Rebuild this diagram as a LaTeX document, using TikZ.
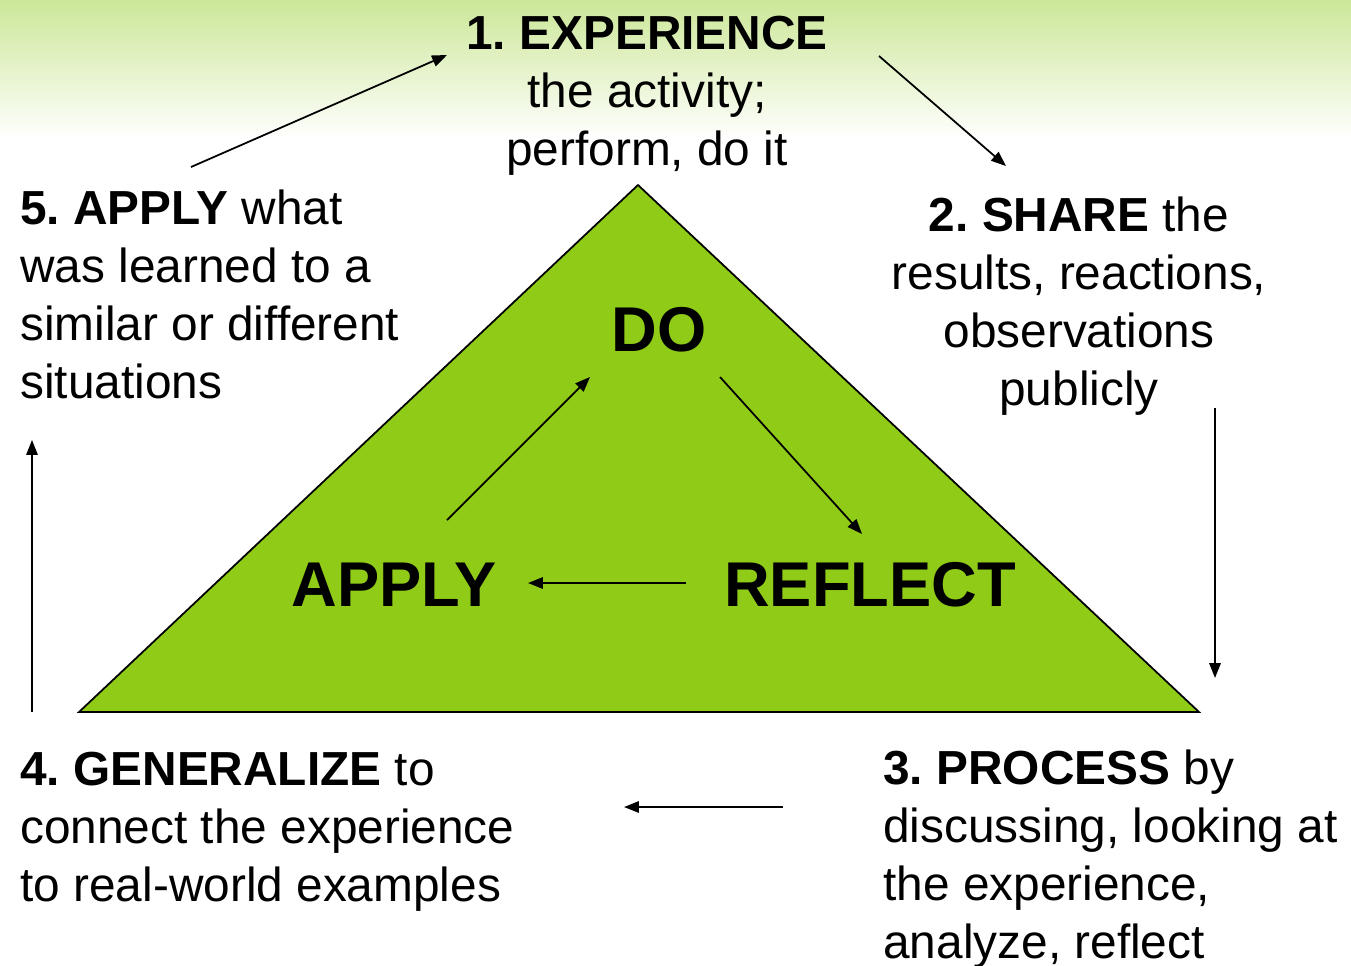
\documentclass[tikz,border=0pt]{standalone}
\usepackage{fontspec}
\setmainfont{Liberation Sans}
\usetikzlibrary{arrows.meta}
\frenchspacing
\definecolor{leafgreen}{RGB}{143,203,23}
\definecolor{palegreen}{RGB}{204,231,152}
\tikzset{stage/.style={font=\fontsize{27.2}{33}\selectfont,inner sep=0pt,anchor=base west,align=left}}
\tikzset{core/.style={font=\fontsize{36}{42}\selectfont\bfseries,inner sep=0pt}}
\tikzset{flow/.style={-{Triangle[length=8.5pt,width=6.5pt]},line width=1pt}}

\begin{document}
\begin{tikzpicture}[x=0.02cm,y=-0.02cm]
	\useasboundingbox (0,0) rectangle (1351,965);
	\shade[top color=palegreen,bottom color=white] (0,0) rectangle (1351,140);
	\coordinate (apex) at (638,185);
	\coordinate (bl) at (79,712);
	\coordinate (br) at (1199,712);
	\draw[fill=leafgreen,line width=1pt] (bl) -- (apex) -- (br) -- cycle;
	\node[stage,anchor=base,align=center] (exp) at (647,165) {\textbf{1. EXPERIENCE}\\the activity;\\perform, do it};
	\node[stage,anchor=base,align=center] (share) at (1079,405) {\textbf{2. SHARE} the\\results, reactions,\\observations\\publicly};
	\node[stage] (proc) at (883,958) {\textbf{3. PROCESS} by\\discussing, looking at\\the experience,\\analyze, reflect};
	\node[stage] (gen) at (20,901) {\textbf{4. GENERALIZE} to\\connect the experience\\to real-world examples};
	\node[stage] (app) at (20,398) {\textbf{5. APPLY} what\\was learned to a\\similar or different\\situations};
	\node[core] (do) at (659,330) {DO};
	\node[core] (apply) at (394,585) {APPLY};
	\node[core] (reflect) at (870,585) {REFLECT};
	\coordinate (a1) at (191,167);
	\coordinate (b1) at (447,55);
	\coordinate (a2) at (879,56);
	\coordinate (b2) at (1006,166);
	\coordinate (a3) at (1215,408);
	\coordinate (b3) at (1215,678);
	\coordinate (a4) at (783,807);
	\coordinate (b4) at (624,807);
	\coordinate (a5) at (32,712);
	\coordinate (b5) at (32,440);
	\draw[flow] (a1) -- (b1);
	\draw[flow] (a2) -- (b2);
	\draw[flow] (a3) -- (b3);
	\draw[flow] (a4) -- (b4);
	\draw[flow] (a5) -- (b5);
	\coordinate (c1) at (447,520);
	\coordinate (d1) at (590,377);
	\coordinate (c2) at (720,377);
	\coordinate (d2) at (862,534);
	\coordinate (c3) at (686,583);
	\coordinate (d3) at (528,583);
	\draw[flow] (c1) -- (d1);
	\draw[flow] (c2) -- (d2);
	\draw[flow] (c3) -- (d3);
\end{tikzpicture}
\end{document}
